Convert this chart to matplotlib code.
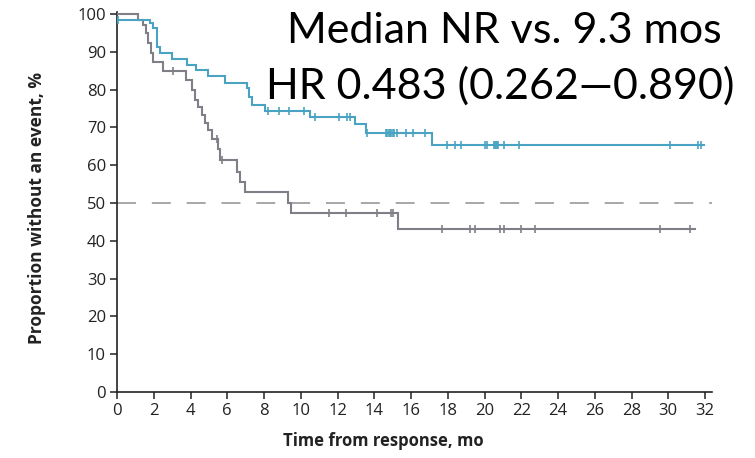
import numpy as np
import matplotlib
matplotlib.use("Agg")
import matplotlib.pyplot as plt

# ---- data ----
teal_times = [0, 1.8, 1.98, 2.16, 2.34, 2.97, 3.8, 4.3, 4.95, 5.88, 7.06, 7.2, 7.33,
              8.05, 10.5, 12.95, 13.55, 17.15]
teal_levels = [98.4, 97.5, 96.2, 91.3, 89.6, 88.2, 86.5, 85.2, 83.5, 81.8, 80.3, 78.1,
               75.9, 74.2, 72.6, 70.9, 68.6, 65.2]
teal_end = 31.95
teal_censor = [0.05, 8.2, 8.8, 9.35, 10.15, 10.75, 12.1, 12.5, 12.7, 13.6,
               14.65, 14.72, 14.79, 14.86, 14.93, 15.0, 15.05,
               15.25, 15.75, 16.1, 16.75, 17.95, 18.4, 18.7, 20.0, 20.15,
               20.5, 20.56, 20.62, 20.68, 20.72, 21.05, 21.9, 30.1, 31.6, 31.8]

gray_times = [0, 1.12, 1.43, 1.56, 1.7, 1.83, 1.94, 2.52, 3.75, 4.06, 4.24, 4.43, 4.6,
              4.79, 4.97, 5.15, 5.5, 5.6, 6.51, 6.69, 6.97, 9.32, 9.45, 15.3]
gray_levels = [100, 98.4, 97.1, 94.9, 92.2, 89.6, 87.4, 84.9, 82.4, 79.9, 77.2, 75.5,
               73.3, 71.1, 69.3, 66.8, 64.2, 61.4, 58.3, 55.6, 52.8, 49.9, 47.3, 43.1]
gray_end = 31.45
gray_censor = [3.07, 5.42, 5.7, 11.55, 12.45, 14.15, 14.9, 15.0, 17.7, 19.2, 19.5,
               20.85, 21.05, 22.0, 22.75, 29.55, 31.2]

x_ticks = list(range(0, 33, 2))
y_ticks = list(range(0, 101, 10))
annot_lines = ["Median NR vs. 9.3 mos", "HR 0.483 (0.262\u20140.890)"]

TEAL = "#4aa3c2"
GRAY = "#7f7f88"

W, H = 755, 458
fig = plt.figure(figsize=(W / 100, H / 100), dpi=100)
ax = fig.add_axes([117 / W, 1 - 392 / H, (712 - 117) / W, (392 - 12) / H])


def level_at(times, levels, t):
    idx = np.searchsorted(times, t, side="right") - 1
    return np.array(levels)[idx]


def draw_km(times, levels, end, censor, color):
    xs = list(times) + [end]
    ys = list(levels) + [levels[-1]]
    ax.step(xs, ys, where="post", color=color, lw=1.5, solid_joinstyle="miter", zorder=3)
    cy = level_at(times, levels, censor)
    ax.plot(censor, cy, linestyle="none", marker="|", markersize=5.8, mew=1.2,
            color=color, zorder=4)


draw_km(gray_times, gray_levels, gray_end, gray_censor, GRAY)
draw_km(teal_times, teal_levels, teal_end, teal_censor, TEAL)

ax.axhline(50, color="#8f8f8f", lw=1.1, dashes=(12.4, 10.4), zorder=2)

ax.set_xlim(0, 32.38)
ax.set_ylim(0, 100.5)
ax.set_xticks(x_ticks)
ax.set_yticks(y_ticks)
for s in ["top", "right"]:
    ax.spines[s].set_visible(False)
for s in ["left", "bottom"]:
    ax.spines[s].set_color("#222222")
    ax.spines[s].set_linewidth(1.2)
ax.tick_params(direction="out", length=5, width=1.1, color="#222222",
               labelsize=12, labelcolor="#222222", pad=3)
for lab in ax.get_xticklabels() + ax.get_yticklabels():
    lab.set_family("Open Sans")

ax.set_xlabel("Time from response, mo", fontsize=12, fontweight="bold",
              family="Open Sans", color="#222222")
ax.set_ylabel("Proportion without an event, %", fontsize=12.5, fontweight="bold",
              family="Open Sans", color="#222222")
ax.xaxis.set_label_coords((383 - 117) / 595, (392 - 432) / 380)
ax.yaxis.set_label_coords((46 - 117) / 595, 0.485)

fig.text(504 / W, 1 - 43 / H, annot_lines[0], ha="center", va="baseline",
         fontsize=31, family="Lato", color="black")
fig.text(500 / W, 1 - 99 / H, annot_lines[1], ha="center", va="baseline",
         fontsize=31, family="Lato", color="black")

fig.savefig("out.png", dpi=100)
